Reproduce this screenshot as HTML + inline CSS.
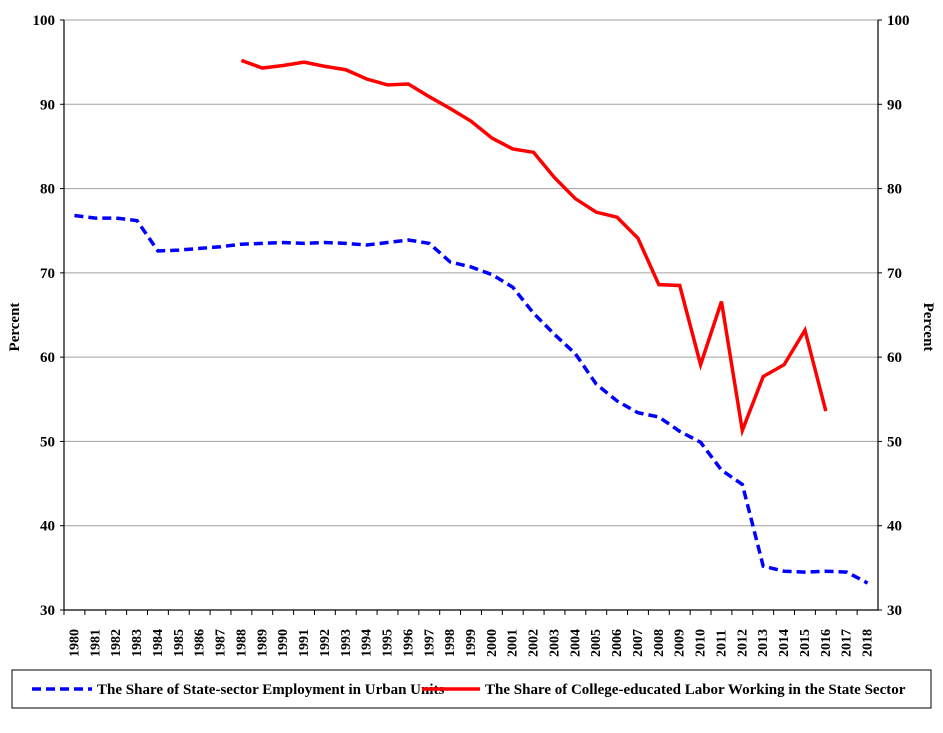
<!DOCTYPE html>
<html><head><meta charset="utf-8"><style>
body{margin:0;background:#fff;}
svg text{font-family:"Liberation Serif",serif;font-weight:bold;fill:#000;}
</style></head><body>
<svg id="chart" width="943" height="728" xmlns="http://www.w3.org/2000/svg"></svg>
<script>
const years=[];for(let y=1980;y<=2018;y++)years.push(y);
const stateEmp=[76.8,76.5,76.5,76.2,72.6,72.7,72.9,73.1,73.4,73.5,73.6,73.5,73.6,73.5,73.3,73.6,73.9,73.5,71.3,70.7,69.8,68.3,65.2,62.7,60.4,56.8,54.8,53.4,52.9,51.2,49.9,46.6,44.9,35.2,34.6,34.5,34.6,34.5,33.2];
const collegeYears=[1988,1989,1990,1991,1992,1993,1994,1995,1996,1997,1998,1999,2000,2001,2002,2003,2004,2005,2006,2007,2008,2009,2010,2011,2012,2013,2014,2015,2016];
const collegeShare=[95.2,94.3,94.6,95.0,94.5,94.1,93.0,92.3,92.4,90.9,89.5,88.0,86.0,84.7,84.3,81.3,78.8,77.2,76.6,74.1,68.6,68.5,59.1,66.6,51.3,57.7,59.1,63.2,53.6];
const yTicks=[30,40,50,60,70,80,90,100];
const NS='http://www.w3.org/2000/svg';
const svg=document.getElementById('chart');
const L=64,R=878,T=20,B=610;
const step=(R-L)/years.length;
const xs=y=>L+step*(years.indexOf(y)+0.5);
const ys=v=>B-(v-30)/70*(B-T);
function mk(tag,attrs,parent){const e=document.createElementNS(NS,tag);for(const k in attrs)e.setAttribute(k,attrs[k]);(parent||svg).appendChild(e);return e;}
yTicks.forEach(v=>{
 if(v>30){const g=mk('line',{x1:L,x2:R,y1:ys(v),y2:ys(v),stroke:'#a0a0a0','stroke-width':1});
 
 }
 const t1=mk('text',{x:L-9,y:ys(v)+5,'text-anchor':'end','font-size':15});t1.textContent=v;
 
 
 const t2=mk('text',{x:R+9,y:ys(v)+5,'text-anchor':'start','font-size':15});t2.textContent=v;
 
 
 mk('line',{x1:L-4,x2:L,y1:ys(v),y2:ys(v),stroke:'#000'});
 mk('line',{x1:R,x2:R+4,y1:ys(v),y2:ys(v),stroke:'#000'});
});
const ax=mk('path',{d:`M${L},${T}V${B}H${R}V${T}`,fill:'none',stroke:'#000','stroke-width':1.2});


years.forEach((y,i)=>{
 mk('line',{x1:L+step*i,x2:L+step*i,y1:B,y2:B+5,stroke:'#000'});
 const t=mk('text',{transform:`translate(${xs(y)+4},${B+47}) rotate(-90)`,'font-size':14});t.textContent=y;
 
 
});
const lt=mk('text',{transform:'translate(19,327) rotate(-90)','text-anchor':'middle','font-size':15});lt.textContent='Percent';


const rt=mk('text',{transform:'translate(924,327) rotate(90)','text-anchor':'middle','font-size':15});rt.textContent='Percent';


const bl=mk('polyline',{points:years.map((y,i)=>xs(y)+','+ys(stateEmp[i])).join(' '),fill:'none',stroke:'#0000ff','stroke-width':3.5,'stroke-dasharray':'9,5'});


const rl=mk('polyline',{points:collegeYears.map((y,i)=>xs(y)+','+ys(collegeShare[i])).join(' '),fill:'none',stroke:'#ff0000','stroke-width':3.5});


const lg=mk('rect',{x:12,y:670,width:919,height:38,fill:'#fff',stroke:'#000'});


mk('line',{x1:32,x2:92,y1:689,y2:689,stroke:'#0000ff','stroke-width':3.5,'stroke-dasharray':'9,5'});
const l1=mk('text',{x:97,y:694,'font-size':15});l1.textContent='The Share of State-sector Employment in Urban Units';


mk('line',{x1:422,x2:480,y1:689,y2:689,stroke:'#ff0000','stroke-width':3.5});
const l2=mk('text',{x:485,y:694,'font-size':15});l2.textContent='The Share of College-educated Labor Working in the State Sector';


</script>
</body></html>
